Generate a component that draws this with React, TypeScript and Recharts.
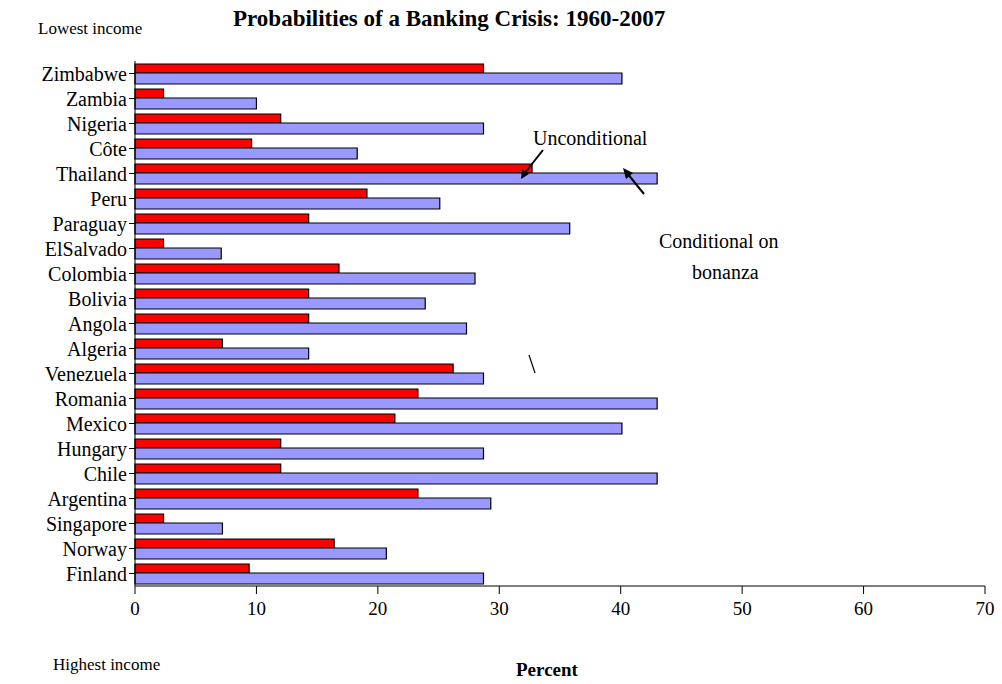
import React from "react";
import { BarChart, Bar, XAxis, YAxis } from "recharts";

const countries = ["Zimbabwe","Zambia","Nigeria","Côte","Thailand","Peru","Paraguay","ElSalvado","Colombia","Bolivia","Angola","Algeria","Venezuela","Romania","Mexico","Hungary","Chile","Argentina","Singapore","Norway","Finland"];
const unconditional = [28.7,2.35,12.0,9.6,32.7,19.1,14.3,2.35,16.8,14.3,14.3,7.2,26.2,23.3,21.4,12.0,12.0,23.3,2.35,16.4,9.4];
const conditional = [40.1,10.0,28.7,18.3,43.0,25.1,35.8,7.1,28.0,23.9,27.3,14.3,28.7,43.0,40.1,28.7,43.0,29.3,7.2,20.7,28.7];
const xTicks = [0,10,20,30,40,50,60,70];

const data = countries.map((c, i) => ({ name: c, u: unconditional[i], c: conditional[i] }));
const font = "'Liberation Serif', 'Times New Roman', serif";

export default function App() {
  return (
    <div style={{ position: "absolute", left: 0, top: 0, width: 1002, height: 684, background: "#fff", fontFamily: font }}>
      <BarChart width={1002} height={684} data={data} layout="vertical"
        margin={{ top: 61, right: 17, bottom: 68, left: 5 }} barGap={0} barCategoryGap={3}>
        <XAxis type="number" domain={[0, 70]} ticks={xTicks} interval={0}
          tick={{ fill: "#000", fontSize: 19, fontFamily: font }} tickSize={8}
          stroke="#000" tickMargin={8} height={30} />
        <YAxis type="category" dataKey="name" width={130} interval={0}
          tick={{ fill: "#000", fontSize: 20, fontFamily: font }} tickSize={6} tickMargin={2} stroke="#000" />
        <Bar dataKey="u" fill="#ff0000" stroke="#000" strokeWidth={1.2} barSize={9} isAnimationActive={false} />
        <Bar dataKey="c" fill="#9999ff" stroke="#000" strokeWidth={1.2} barSize={11} isAnimationActive={false} />
      </BarChart>
      <div style={{ position: "absolute", left: 233, top: 6, fontSize: 23, fontWeight: "bold" }}>Probabilities of a Banking Crisis: 1960-2007</div>
      <div style={{ position: "absolute", left: 38, top: 19, fontSize: 17 }}>Lowest income</div>
      <div style={{ position: "absolute", left: 53, top: 655, fontSize: 17 }}>Highest income</div>
      <div style={{ position: "absolute", left: 516, top: 659, fontSize: 19, fontWeight: "bold" }}>Percent</div>
      <div style={{ position: "absolute", left: 533, top: 127, fontSize: 20 }}>Unconditional</div>
      <div style={{ position: "absolute", left: 659, top: 230, fontSize: 20 }}>Conditional on</div>
      <div style={{ position: "absolute", left: 692, top: 261, fontSize: 20 }}>bonanza</div>
      <svg width={1002} height={684} style={{ position: "absolute", left: 0, top: 0, pointerEvents: "none" }}>
        <line x1={543} y1={150} x2={524} y2={174} stroke="#000" strokeWidth={2} />
        <polygon points="521,179 522,169 529,174" fill="#000" />
        <line x1={644} y1={194} x2={627} y2={173} stroke="#000" strokeWidth={2} />
        <polygon points="623,168 633,173 626,179" fill="#000" />
        <line x1={529} y1={355} x2={535} y2={373} stroke="#000" strokeWidth={1.2} />
      </svg>
    </div>
  );
}
